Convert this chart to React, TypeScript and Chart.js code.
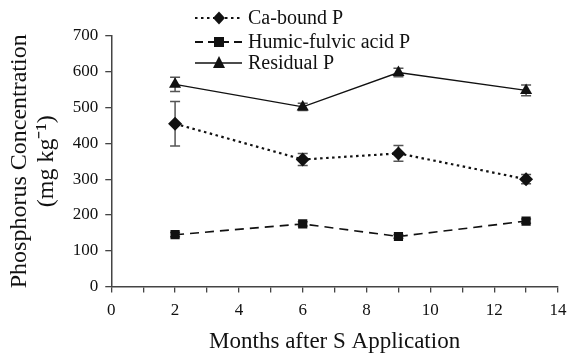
import React, { useEffect, useRef } from "react";
import { Chart, registerables } from "chart.js";

Chart.register(...registerables);

const months = [2, 6, 9, 13];
const caBound = [455, 355, 372, 300];
const caBoundErr = [62, 17, 22, 13];
const humic = [145, 175, 140, 183];
const humicErr = [6, 6, 5, 6];
const residual = [565, 502, 598, 548];
const residualErr = [20, 10, 12, 15];
const xTicks = [0, 2, 4, 6, 8, 10, 12, 14];
const yTicks = [0, 100, 200, 300, 400, 500, 600, 700];

const legendItems = [
  { label: "Ca-bound P", dash: [2.5, 3.5], width: 2.2, style: "diamond" },
  { label: "Humic-fulvic acid P", dash: [8, 5], width: 2, style: "square" },
  { label: "Residual P", dash: [], width: 1.3, style: "triangle" },
];

const FONT = "'Liberation Serif', 'Times New Roman', serif";

function drawMarker(ctx: CanvasRenderingContext2D, style: string, x: number, y: number) {
  ctx.beginPath();
  if (style === "diamond") {
    ctx.moveTo(x, y - 6.5);
    ctx.lineTo(x + 6, y);
    ctx.lineTo(x, y + 6.5);
    ctx.lineTo(x - 6, y);
  } else if (style === "square") {
    ctx.rect(x - 5, y - 5, 10, 10);
  } else {
    ctx.moveTo(x, y - 7);
    ctx.lineTo(x + 6, y + 5);
    ctx.lineTo(x - 6, y + 5);
  }
  ctx.closePath();
  ctx.fill();
}

const errorBarPlugin = {
  id: "errorBars",
  beforeDatasetsDraw(chart: any) {
    const ctx = chart.ctx as CanvasRenderingContext2D;
    const xs = chart.scales.x;
    const ys = chart.scales.y;
    const sets = [
      [caBound, caBoundErr],
      [humic, humicErr],
      [residual, residualErr],
    ];
    ctx.save();
    ctx.strokeStyle = "#555";
    ctx.lineWidth = 1.5;
    ctx.setLineDash([]);
    sets.forEach(([vals, errs]) => {
      vals.forEach((v, i) => {
        const px = xs.getPixelForValue(months[i]);
        const top = ys.getPixelForValue(v + errs[i]);
        const bot = ys.getPixelForValue(v - errs[i]);
        ctx.beginPath();
        ctx.moveTo(px, top);
        ctx.lineTo(px, bot);
        ctx.moveTo(px - 5, top);
        ctx.lineTo(px + 5, top);
        ctx.moveTo(px - 5, bot);
        ctx.lineTo(px + 5, bot);
        ctx.stroke();
      });
    });
    ctx.restore();
  },
};

const legendPlugin = {
  id: "customLegend",
  afterDraw(chart: any) {
    const ctx = chart.ctx as CanvasRenderingContext2D;
    ctx.save();
    const rows = [18, 42, 63];
    legendItems.forEach((it, i) => {
      const y = rows[i];
      ctx.strokeStyle = "#111";
      ctx.fillStyle = "#111";
      ctx.lineWidth = it.width;
      ctx.setLineDash(it.dash);
      ctx.beginPath();
      ctx.moveTo(195, y);
      ctx.lineTo(242, y);
      ctx.stroke();
      ctx.setLineDash([]);
      drawMarker(ctx, it.style, 219, y);
      ctx.font = `20px ${FONT}`;
      ctx.textBaseline = "middle";
      ctx.textAlign = "left";
      ctx.fillText(it.label, 248, y + 1);
    });
    ctx.restore();
  },
};

export default function App() {
  const ref = useRef<HTMLCanvasElement | null>(null);
  useEffect(() => {
    document.body.style.margin = "0";
    const toPts = (vals: number[]) => vals.map((v, i) => ({ x: months[i], y: v }));
    const chart = new Chart(ref.current as HTMLCanvasElement, {
      type: "line",
      data: {
        datasets: [
          {
            label: "Ca-bound P",
            data: toPts(caBound),
            borderColor: "#111",
            backgroundColor: "#111",
            borderWidth: 2.2,
            borderDash: [2.5, 3.5],
            pointStyle: "rectRot",
            pointRadius: 7,
            pointBorderWidth: 0,
          },
          {
            label: "Humic-fulvic acid P",
            data: toPts(humic),
            borderColor: "#111",
            backgroundColor: "#111",
            borderWidth: 1.6,
            borderDash: [9, 6],
            pointStyle: "rect",
            pointRadius: 6.5,
            pointBorderWidth: 0,
          },
          {
            label: "Residual P",
            data: toPts(residual),
            borderColor: "#111",
            backgroundColor: "#111",
            borderWidth: 1.3,
            pointStyle: "triangle",
            pointRadius: 7,
            pointBorderWidth: 0,
          },
        ],
      },
      options: {
        animation: false,
        responsive: false,
        maintainAspectRatio: false,
        layout: { padding: { top: 36, right: 0, left: 6, bottom: 0 } },
        plugins: { legend: { display: false }, tooltip: { enabled: false } },
        scales: {
          x: {
            type: "linear",
            min: 0,
            max: 14,
            afterBuildTicks: (s: any) => {
              const t = [];
              for (let v = 0; v <= 14; v++) t.push({ value: v });
              s.ticks = t;
            },
            afterFit: (s: any) => {
              s.paddingRight = 10;
              s.paddingLeft = 10;
            },
            ticks: {
              autoSkip: false,
              maxRotation: 0,
              color: "#111",
              font: { family: FONT, size: 17 },
              padding: 8,
              callback: (v: any) => (xTicks.includes(Number(v)) ? String(v) : ""),
            },
            grid: { drawOnChartArea: false, color: "#444", tickLength: 6, lineWidth: 1.3 },
            border: { color: "#444", width: 1.5 },
            title: {
              display: true,
              text: "Months after S Application",
              color: "#111",
              font: { family: FONT, size: 23, lineHeight: 1.0 },
              padding: { top: 1, bottom: 0 },
            },
          },
          y: {
            min: 0,
            max: 700,
            afterBuildTicks: (s: any) => {
              s.ticks = yTicks.map((v) => ({ value: v }));
            },
            ticks: {
              color: "#111",
              font: { family: FONT, size: 17 },
              padding: 7,
            },
            grid: { drawOnChartArea: false, color: "#444", tickLength: 6, lineWidth: 1.3 },
            border: { color: "#444", width: 1.5 },
            title: {
              display: true,
              text: ["Phosphorus Concentration", "(mg kg\u207B\u00B9)"],
              color: "#111",
              font: { family: FONT, size: 24, lineHeight: 1.12 },
              padding: { top: 0, bottom: 6 },
            },
          },
        },
      },
      plugins: [errorBarPlugin, legendPlugin],
    } as any);
    return () => chart.destroy();
  }, []);
  return (
    <div style={{ width: 568, height: 353 }}>
      <canvas ref={ref} width={568} height={353} style={{ width: 568, height: 353 }} />
    </div>
  );
}
